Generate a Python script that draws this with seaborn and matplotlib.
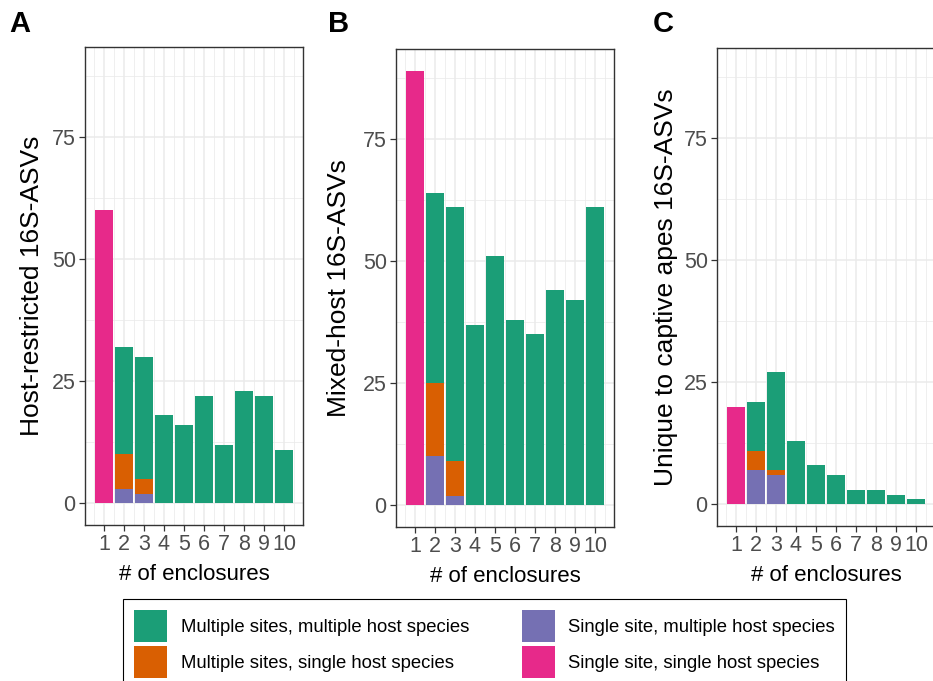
import numpy as np
import pandas as pd
import matplotlib
matplotlib.use("Agg")
import matplotlib.pyplot as plt
import seaborn as sns
from matplotlib.patches import Patch

# ---- data -------------------------------------------------------------
enclosures = [1, 2, 3, 4, 5, 6, 7, 8, 9, 10]

categories = [
    "Multiple sites, multiple host species",
    "Multiple sites, single host species",
    "Single site, multiple host species",
    "Single site, single host species",
]
palette = ["#1B9E77", "#D95F02", "#7570B3", "#E7298A"]

# Host-restricted ASVs
hr_multi_multi = [0, 22, 25, 18, 16, 22, 12, 23, 22, 11]
hr_multi_single = [0, 7, 3, 0, 0, 0, 0, 0, 0, 0]
hr_single_multi = [0, 3, 2, 0, 0, 0, 0, 0, 0, 0]
hr_single_single = [60, 0, 0, 0, 0, 0, 0, 0, 0, 0]

# Mixed-host ASVs
mh_multi_multi = [0, 39, 52, 37, 51, 38, 35, 44, 42, 61]
mh_multi_single = [0, 15, 7, 0, 0, 0, 0, 0, 0, 0]
mh_single_multi = [0, 10, 2, 0, 0, 0, 0, 0, 0, 0]
mh_single_single = [89, 0, 0, 0, 0, 0, 0, 0, 0, 0]

# ASVs unique to captive apes
ca_multi_multi = [0, 10, 20, 13, 8, 6, 3, 3, 2, 1]
ca_multi_single = [0, 4, 1, 0, 0, 0, 0, 0, 0, 0]
ca_single_multi = [0, 7, 6, 0, 0, 0, 0, 0, 0, 0]
ca_single_single = [20, 0, 0, 0, 0, 0, 0, 0, 0, 0]

y_titles = ["Host-restricted 16S-ASVs", "Mixed-host 16S-ASVs",
            "Unique to captive apes 16S-ASVs"]
panel_letters = ["A", "B", "C"]

# ---- style ------------------------------------------------------------
sns.set_style("white")
plt.rcParams["font.family"] = ["Liberation Sans", "DejaVu Sans"]

W, H = 933, 681
fig = plt.figure(figsize=(W / 100, H / 100), dpi=100)


def px_axes(left, top, right, bottom):
    return fig.add_axes([left / W, 1 - bottom / H, (right - left) / W,
                         (bottom - top) / H])


def draw_panel(ax, multi_multi, multi_single, single_multi, single_single,
               ytitle, ylabel_x):
    # stack order from the bottom: purple, orange, green, pink
    layers = [(single_multi, palette[2]), (multi_single, palette[1]),
              (multi_multi, palette[0]), (single_single, palette[3])]
    tops = np.cumsum([np.array(v, dtype=float) for v, _ in layers], axis=0)
    for top, (_, col) in reversed(list(zip(tops, layers))):
        df = pd.DataFrame({"enclosures": enclosures, "count": top})
        sns.barplot(data=df, x="enclosures", y="count", color=col,
                    native_scale=True, width=0.9, saturation=1,
                    linewidth=0, orient="x", errorbar=None, ax=ax)

    ax.set_xlim(0.055, 10.945)
    ax.set_ylim(-4.45, 93.45)
    ax.set_xticks(enclosures, labels=[str(e) for e in enclosures])
    ax.set_xticks(np.arange(0.5, 11.0, 1.0), minor=True)
    ax.set_yticks([0, 25, 50, 75], labels=["0", "25", "50", "75"])
    ax.set_yticks([12.5, 37.5, 62.5, 87.5], minor=True)

    ax.set_axisbelow(True)
    ax.grid(True, which="major", color="#EBEBEB", linewidth=1.1)
    ax.grid(True, which="minor", color="#EBEBEB", linewidth=0.55)
    for s in ax.spines.values():
        s.set_visible(True)
        s.set_color("#333333")
        s.set_linewidth(1.0)

    ax.tick_params(which="major", length=4.2, width=0.9, color="#333333",
                   labelsize=15.5, labelcolor="#4D4D4D",
                   bottom=True, left=True)
    ax.tick_params(axis="x", which="major", pad=2.2)
    ax.tick_params(axis="y", which="major", pad=2.5)
    ax.tick_params(which="minor", length=0)

    ax.set_xlabel("# of enclosures", fontsize=16, color="black")
    ax.set_ylabel(ytitle, fontsize=19, color="black")
    ax.xaxis.set_label_coords(0.5, -0.081)
    ax.yaxis.set_label_coords(ylabel_x, 0.5)


axA = px_axes(85, 47, 303, 525)
axB = px_axes(396, 49, 614, 527)
axC = px_axes(717, 48, 935, 526)

draw_panel(axA, hr_multi_multi, hr_multi_single, hr_single_multi,
           hr_single_single, y_titles[0], -0.19)
draw_panel(axB, mh_multi_multi, mh_multi_single, mh_single_multi,
           mh_single_single, y_titles[1], -0.207)
draw_panel(axC, ca_multi_multi, ca_multi_single, ca_single_multi,
           ca_single_single, y_titles[2], -0.18)

for x, letter in zip([9, 328, 653], panel_letters):
    fig.text(x / W, 1 - 32 / H, letter, fontsize=21, fontweight="bold",
             color="black", va="baseline", ha="left")

handles = [Patch(facecolor=c, edgecolor="none") for c in palette]
leg = fig.legend(handles, categories, ncol=2, loc="upper left",
                 bbox_to_anchor=(123 / W, 1 - 599 / H), frameon=True,
                 fancybox=False, edgecolor="black", framealpha=1,
                 fontsize=13.3, handlelength=1.8, handleheight=2.3,
                 labelspacing=0.22, handletextpad=0.72, columnspacing=2.85,
                 borderpad=0.6, borderaxespad=0)
leg.get_frame().set_linewidth(0.8)
for t in leg.get_texts():
    t.set_color("black")

fig.savefig("out.png", dpi=100)
